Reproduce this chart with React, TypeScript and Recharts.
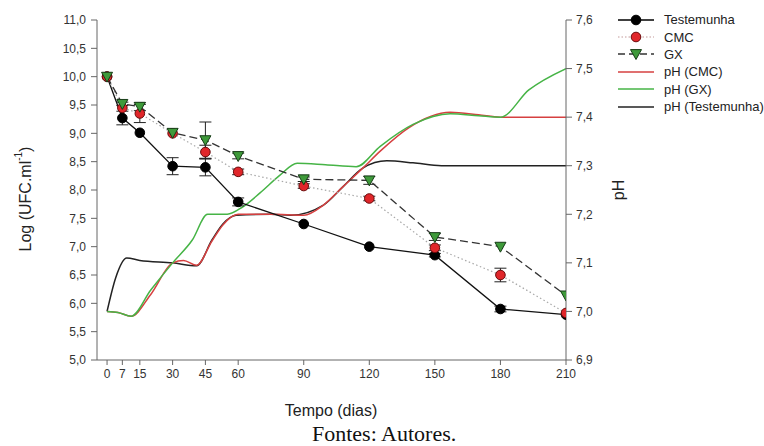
import { ErrorBar, Line, LineChart, XAxis, YAxis } from 'recharts'

// Sampling days (x axis) for the three UFC series
const DAYS = [0, 7, 15, 30, 45, 60, 90, 120, 150, 180, 210]

// Log (UFC/ml), left axis
const TESTEMUNHA = [10.0, 9.27, 9.01, 8.42, 8.4, 7.79, 7.4, 7.0, 6.85, 5.9, 5.8]
const TESTEMUNHA_ERR = [0, 0.12, 0, 0.15, 0.15, 0.07, 0, 0, 0.03, 0.05, 0]
const CMC = [10.0, 9.45, 9.35, 9.0, 8.67, 8.32, 8.07, 7.85, 6.98, 6.5, 5.83]
const CMC_ERR = [0, 0, 0.16, 0, 0.12, 0.05, 0.04, 0.04, 0.05, 0.12, 0]
const GX = [10.0, 9.52, 9.47, 9.01, 8.88, 8.6, 8.19, 8.17, 7.17, 7.0, 6.14]
const GX_ERR = [0, 0.03, 0.07, 0, 0.32, 0.05, 0.04, 0.07, 0.06, 0, 0]

// pH curves, right axis
const PH_TEST_DAYS = [0, 4, 9, 15, 30, 41, 48, 53, 59, 75, 84, 99, 108, 117, 128, 140, 153, 180, 210]
const PH_TEST = [7.0, 7.07, 7.11, 7.105, 7.1, 7.094, 7.147, 7.18, 7.198, 7.2, 7.198, 7.219, 7.257, 7.295, 7.31, 7.306, 7.3, 7.3, 7.3]
const PH_CMC_DAYS = [0, 5, 11, 20, 30, 35, 41, 48, 53, 60, 75, 90, 99, 108, 117, 125, 138, 157, 170, 180, 210]
const PH_CMC = [7.0, 6.998, 6.99, 7.035, 7.1, 7.105, 7.095, 7.145, 7.178, 7.2, 7.2, 7.198, 7.219, 7.257, 7.295, 7.33, 7.378, 7.41, 7.405, 7.4, 7.4]
const PH_GX_DAYS = [0, 5, 11, 20, 30, 39, 46, 55, 62, 70, 79, 87, 100, 114, 125, 140, 157, 170, 180, 193, 210]
const PH_GX = [7.0, 6.998, 6.99, 7.044, 7.1, 7.147, 7.2, 7.2, 7.215, 7.244, 7.28, 7.305, 7.302, 7.298, 7.34, 7.385, 7.407, 7.403, 7.4, 7.456, 7.5]

const LOG_TICKS = [5, 5.5, 6, 6.5, 7, 7.5, 8, 8.5, 9, 9.5, 10, 10.5, 11]
const PH_TICKS = [6.9, 7.0, 7.1, 7.2, 7.3, 7.4, 7.5, 7.6]
const LEGEND_NAMES = ['Testemunha', 'CMC', 'GX', 'pH (CMC)', 'pH (GX)', 'pH (Testemunha)']

const ufcRows = (vals: number[], errs: number[]) =>
  DAYS.map((day, i) => ({ day, v: vals[i], err: errs[i] }))
const phRows = (days: number[], vals: number[]) => days.map((day, i) => ({ day, v: vals[i] }))

const FONT = '"Liberation Sans", Arial, sans-serif'
const comma = (v: number) => v.toFixed(1).replace('.', ',')
const TITLE = { fill: '#222', fontSize: 16, fontFamily: FONT }

const RED = '#e0262a'
const RED_EDGE = '#6a0a0a'
const GREEN = '#3e9a3a'
const GREEN_EDGE = '#173c17'
const PH_RED = '#d64040'
const PH_GREEN = '#46b446'

function BlackDot({ cx, cy }: { cx: number; cy: number }) {
  return <circle cx={cx} cy={cy} r={4.8} fill="#000" stroke="#000" />
}
function RedDot({ cx, cy }: { cx: number; cy: number }) {
  return <circle cx={cx} cy={cy} r={4.8} fill={RED} stroke={RED_EDGE} strokeWidth={1} />
}
function GreenTri({ cx, cy }: { cx: number; cy: number }) {
  const s = 5.5
  return (
    <path
      d={`M${cx - s},${cy - s * 0.8} L${cx + s},${cy - s * 0.8} L${cx},${cy + s} Z`}
      fill={GREEN}
      stroke={GREEN_EDGE}
      strokeWidth={1}
    />
  )
}

const dotFn = (Comp: typeof BlackDot) => (p: any) =>
  p.cx == null ? <g key={p.key ?? p.index} /> : <Comp key={p.key ?? p.index} cx={p.cx} cy={p.cy} />

function LegendBox() {
  const icon = (i: number) => {
    switch (i) {
      case 0:
        return (
          <>
            <line x1={2} x2={38} y1={6} y2={6} stroke="#000" strokeWidth={1.3} />
            <BlackDot cx={20} cy={6} />
          </>
        )
      case 1:
        return (
          <>
            <line x1={2} x2={38} y1={6} y2={6} stroke="#c49a9a" strokeWidth={1.2} strokeDasharray="1.5 2" />
            <RedDot cx={20} cy={6} />
          </>
        )
      case 2:
        return (
          <>
            <line x1={2} x2={38} y1={6} y2={6} stroke="#333" strokeWidth={1.3} strokeDasharray="7 4" />
            <GreenTri cx={20} cy={6} />
          </>
        )
      case 3:
        return <line x1={2} x2={38} y1={6} y2={6} stroke={PH_RED} strokeWidth={1.5} />
      case 4:
        return <line x1={2} x2={38} y1={6} y2={6} stroke={PH_GREEN} strokeWidth={1.5} />
      default:
        return <line x1={2} x2={38} y1={6} y2={6} stroke="#222" strokeWidth={1.5} />
    }
  }
  return (
    <div
      style={{
        position: 'absolute',
        left: 616,
        top: 11,
        fontFamily: FONT,
        fontSize: 13,
        color: '#222',
      }}
    >
      {LEGEND_NAMES.map((name, i) => (
        <div key={name} style={{ display: 'flex', alignItems: 'center', height: 17.4 }}>
          <svg width={40} height={12} style={{ marginRight: 8, overflow: 'visible' }}>
            {icon(i)}
          </svg>
          <span>{name}</span>
        </div>
      ))}
    </div>
  )
}

export default function App() {
  return (
    <div style={{ position: 'absolute', left: 0, top: 0, width: 764, height: 446, background: '#fff' }}>
      <LineChart width={764} height={446} margin={{ top: 20, right: 148, bottom: 56, left: 37 }}>
        <XAxis
          type="number"
          dataKey="day"
          domain={[-4.6, 210]}
          ticks={DAYS}
          interval={0}
          allowDataOverflow
          height={30}
          tickSize={5}
          tickMargin={4}
          stroke="#666"
          tick={{ fill: '#333', fontSize: 12, fontFamily: FONT }}
          label={{
            content: () => (
              <text x={331} y={410} textAnchor="middle" dominantBaseline="central" style={TITLE}>
                Tempo (dias)
              </text>
            ),
          }}
        />
        <YAxis
          yAxisId="log"
          orientation="left"
          type="number"
          domain={[5, 11]}
          ticks={LOG_TICKS}
          interval={0}
          width={60}
          tickSize={6}
          tickMargin={5}
          stroke="#666"
          tickFormatter={comma}
          tick={{ fill: '#333', fontSize: 12, fontFamily: FONT }}
          label={{
            content: () => (
              <text
                x={25}
                y={199}
                transform="rotate(-90 25 199)"
                textAnchor="middle"
                dominantBaseline="central"
                style={TITLE}
              >
                Log (UFC.ml
                <tspan dy={-7} fontSize={10}>
                  -1
                </tspan>
                <tspan dy={7}>)</tspan>
              </text>
            ),
          }}
        />
        <YAxis
          yAxisId="ph"
          orientation="right"
          type="number"
          domain={[6.9, 7.6]}
          ticks={PH_TICKS}
          interval={0}
          width={50}
          tickSize={6}
          tickMargin={4}
          stroke="#666"
          tickFormatter={comma}
          tick={{ fill: '#333', fontSize: 12, fontFamily: FONT }}
          label={{
            content: () => (
              <text
                x={618}
                y={190}
                transform="rotate(-90 618 190)"
                textAnchor="middle"
                dominantBaseline="central"
                style={TITLE}
              >
                pH
              </text>
            ),
          }}
        />

        <Line
          yAxisId="ph"
          data={phRows(PH_TEST_DAYS, PH_TEST)}
          dataKey="v"
          type="monotone"
          stroke="#222"
          strokeWidth={1.5}
          dot={false}
          isAnimationActive={false}
        />
        <Line
          yAxisId="ph"
          data={phRows(PH_CMC_DAYS, PH_CMC)}
          dataKey="v"
          type="monotone"
          stroke={PH_RED}
          strokeWidth={1.5}
          dot={false}
          isAnimationActive={false}
        />
        <Line
          yAxisId="ph"
          data={phRows(PH_GX_DAYS, PH_GX)}
          dataKey="v"
          type="monotone"
          stroke={PH_GREEN}
          strokeWidth={1.5}
          dot={false}
          isAnimationActive={false}
        />

        <Line
          yAxisId="log"
          data={ufcRows(TESTEMUNHA, TESTEMUNHA_ERR)}
          dataKey="v"
          type="linear"
          stroke="#111"
          strokeWidth={1.3}
          dot={dotFn(BlackDot)}
          isAnimationActive={false}
        >
          <ErrorBar dataKey="err" width={6} stroke="#222" strokeWidth={1} direction="y" />
        </Line>
        <Line
          yAxisId="log"
          data={ufcRows(CMC, CMC_ERR)}
          dataKey="v"
          type="linear"
          stroke="#a8a8a8"
          strokeWidth={1.2}
          strokeDasharray="1.5 2.5"
          dot={dotFn(RedDot)}
          isAnimationActive={false}
        >
          <ErrorBar dataKey="err" width={6} stroke="#222" strokeWidth={1} direction="y" />
        </Line>
        <Line
          yAxisId="log"
          data={ufcRows(GX, GX_ERR)}
          dataKey="v"
          type="linear"
          stroke="#333"
          strokeWidth={1.3}
          strokeDasharray="8 4"
          dot={dotFn(GreenTri)}
          isAnimationActive={false}
        >
          <ErrorBar dataKey="err" width={6} stroke="#222" strokeWidth={1} direction="y" />
        </Line>
      </LineChart>
      <LegendBox />
      <div
        style={{
          position: 'absolute',
          left: 312,
          top: 423,
          lineHeight: '22px',
          fontFamily: '"Liberation Serif", "Times New Roman", serif',
          fontSize: 22,
          color: '#111',
          whiteSpace: 'nowrap',
        }}
      >
        Fontes: Autores.
      </div>
    </div>
  )
}
